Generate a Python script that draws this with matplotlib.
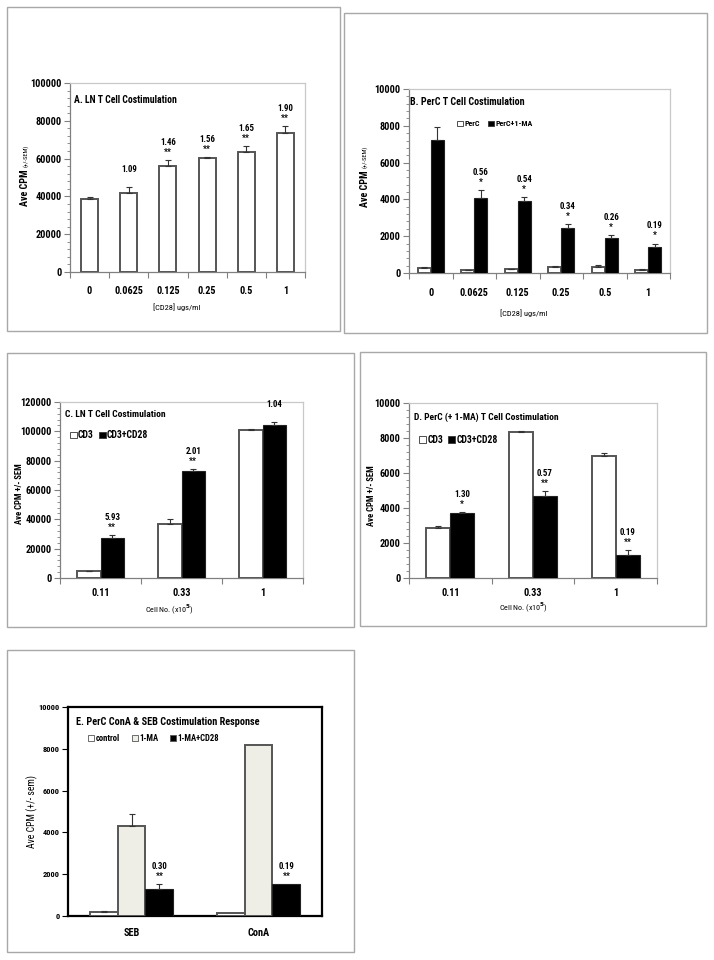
import matplotlib
matplotlib.use('Agg')
import matplotlib.pyplot as plt
from matplotlib.patches import Rectangle, Patch
from matplotlib.ticker import MultipleLocator, FixedLocator, NullFormatter
import numpy as np

plt.rcParams['font.family'] = ['Roboto Condensed', 'Liberation Sans', 'DejaVu Sans']
plt.rcParams['font.weight'] = 'bold'

# ---------------- data ----------------
A_cats = ['0', '0.0625', '0.125', '0.25', '0.5', '1']
A_vals = [38400, 41900, 56300, 60200, 63700, 73500]
A_err = [1400, 3200, 3000, 500, 3000, 3800]
A_ratio = ['', '1.09', '1.46', '1.56', '1.65', '1.90']
A_stars = ['', '', '**', '**', '**', '**']

B_cats = ['0', '0.0625', '0.125', '0.25', '0.5', '1']
B_perc = [270, 150, 200, 310, 330, 180]
B_perc_err = [80, 40, 40, 50, 80, 30]
B_ma = [7250, 4050, 3930, 2450, 1910, 1420]
B_ma_err = [700, 450, 220, 230, 140, 180]
B_ratio = ['', '0.56', '0.54', '0.34', '0.26', '0.19']
B_stars = ['', '*', '*', '*', '*', '*']

C_cats = ['0.11', '0.33', '1']
C_cd3 = [4500, 36900, 100700]
C_cd3_err = [500, 3300, 1100]
C_cd328 = [27200, 73100, 104100]
C_cd328_err = [2100, 900, 2200]
C_ratio = ['5.93', '2.01', '1.04']
C_stars = ['**', '**', '']

D_cats = ['0.11', '0.33', '1']
D_cd3 = [2860, 8320, 6950]
D_cd3_err = [90, 80, 190]
D_cd328 = [3710, 4700, 1330]
D_cd328_err = [60, 250, 290]
D_ratio = ['1.30', '0.57', '0.19']
D_stars = ['*', '**', '**']

E_cats = ['SEB', 'ConA']
E_control = [190, 160]
E_control_err = [50, 0]
E_ma = [4290, 8200]
E_ma_err = [600, 0]
E_macd28 = [1290, 1530]
E_macd28_err = [240, 0]
E_ratio = ['0.30', '0.19']
E_stars = ['**', '**']

# ---------------- helpers ----------------
W, H = 714, 960
fig = plt.figure(figsize=(7.14, 9.6), dpi=100)


def px_axes(l, t, r, b):
    return fig.add_axes([l / W, 1 - b / H, (r - l) / W, (b - t) / H])


def frame(l, t, r, b):
    fig.add_artist(Rectangle((l / W, 1 - b / H), (r - l) / W, (b - t) / H,
                             transform=fig.transFigure, fill=False,
                             edgecolor='#a8a8a8', lw=1.0))


def style(ax, cats, ymax, major, minor, pad=9, fs=7.4, dark=False):
    n = len(cats)
    ax.set_xlim(0, n)
    ax.set_ylim(0, ymax)
    ax.xaxis.set_major_locator(FixedLocator(np.arange(n + 1)))
    ax.xaxis.set_major_formatter(NullFormatter())
    ax.xaxis.set_minor_locator(FixedLocator(np.arange(n) + 0.5))
    ax.set_xticklabels(cats, minor=True, fontsize=fs, fontweight='bold')
    ax.yaxis.set_major_locator(MultipleLocator(major))
    if minor:
        ax.yaxis.set_minor_locator(MultipleLocator(minor))
    for lab in ax.get_yticklabels():
        lab.set_fontsize(fs)
        lab.set_fontweight('bold')
    c = '#000000' if dark else '#808080'
    ax.tick_params(axis='x', which='major', length=4, direction='out', color=c, width=0.8)
    ax.tick_params(axis='x', which='minor', length=0, pad=pad)
    ax.tick_params(axis='y', which='major', length=4, direction='out', color=c, width=0.8, pad=2)
    ax.tick_params(axis='y', which='minor', length=2, direction='out', color=c, width=0.6)
    if dark:
        for s in ax.spines.values():
            s.set_color('black')
            s.set_linewidth(1.6)
    else:
        ax.spines['left'].set_color('#808080')
        ax.spines['bottom'].set_color('#808080')
        ax.spines['top'].set_color('#c8c8c8')
        ax.spines['right'].set_color('#c8c8c8')
        for s in ax.spines.values():
            s.set_linewidth(0.9)


def white_bars(ax, x, vals, w, face='white'):
    ax.bar(x, vals, w, color=face, edgecolor='#555555', linewidth=1.4, zorder=3)


def black_bars(ax, x, vals, w):
    ax.bar(x, vals, w, color='black', edgecolor='#222222', linewidth=0.8, zorder=3)


def errs(ax, x, vals, err):
    x = np.asarray(x, float)
    vals = np.asarray(vals, float)
    err = np.asarray(err, float)
    m = err > 0
    ax.errorbar(x[m], vals[m], yerr=[np.zeros(m.sum()), err[m]], fmt='none',
                ecolor='#333333', elinewidth=0.8, capsize=2.2, capthick=0.8, zorder=4)


def notes(ax, x, vals, err, ratios, stars, fs=6.4, d1=5.5, d2=12.7):
    for xi, v, e, r, s in zip(x, vals, err, ratios, stars):
        top = v + e
        if s:
            ax.annotate(s, (xi, top), xytext=(0, d1), textcoords='offset points',
                        ha='center', va='center', fontsize=fs, fontweight='bold')
        if r:
            ax.annotate(r, (xi, top), xytext=(0, d2), textcoords='offset points',
                        ha='center', va='center', fontsize=fs, fontweight='bold')


def legend(ax, labels, colors, x, y, fs=6.8, spacing=1.2, edge='#333333'):
    handles = [Patch(facecolor=c, edgecolor=edge, linewidth=0.6) for c in colors]
    ax.legend(handles, labels, loc='center left', bbox_to_anchor=(x, y),
              ncol=len(labels), frameon=False, handlelength=0.7,
              handleheight=0.7, handletextpad=0.15, columnspacing=spacing,
              borderaxespad=0, borderpad=0, prop={'weight': 'bold', 'size': fs})


def ylab_two(ax, x, y0, main, small):
    t1 = ax.text(x, y0, main, transform=ax.transAxes, rotation=90,
                 fontsize=7.2, fontweight='bold', ha='center', va='bottom')
    ax.annotate(small, xy=(0.5, 1.0), xycoords=t1, xytext=(0, 1.5),
                textcoords='offset points', rotation=90, fontsize=4.6,
                fontweight='normal', ha='center', va='bottom')


# panel frames
frame(7, 7, 340, 331)
frame(344, 13, 707, 333)
frame(7, 353, 354, 627)
frame(360, 352, 706, 626)
frame(7, 650, 354, 952)

# ---------------- Panel A ----------------
ax = px_axes(70, 83, 305, 272)
xa = np.arange(len(A_cats)) + 0.5
white_bars(ax, xa, A_vals, 0.43)
errs(ax, xa, A_vals, A_err)
notes(ax, xa, A_vals, A_err, A_ratio, A_stars)
style(ax, A_cats, 100000, 20000, 4000, pad=10)
ax.text(0.015, 0.91, 'A. LN T Cell Costimulation', transform=ax.transAxes,
        fontsize=7.0, fontweight='bold', va='center', ha='left')
ylab_two(ax, -0.19, 0.35, 'Ave CPM', '(+/-SEM)')
ax.text(0.455, -0.185, '[CD28] ugs/ml', transform=ax.transAxes,
        fontsize=6, fontweight='normal', ha='center', va='center')

# ---------------- Panel B ----------------
ax = px_axes(409, 89, 670, 273)
xb = np.arange(len(B_cats)) + 0.5
w = 0.3
white_bars(ax, xb - w / 2, B_perc, w)
black_bars(ax, xb + w / 2, B_ma, w)
errs(ax, xb - w / 2, B_perc, B_perc_err)
errs(ax, xb + w / 2, B_ma, B_ma_err)
notes(ax, xb + w / 2, B_ma, B_ma_err, B_ratio, B_stars)
style(ax, B_cats, 10000, 2000, 400, pad=11)
ax.text(0.005, 0.93, 'B. PerC T Cell Costimulation', transform=ax.transAxes,
        fontsize=7.2, fontweight='bold', va='center', ha='left')
legend(ax, ['PerC', 'PerC+1-MA'], ['white', 'black'], 0.185, 0.81, fs=5.8, spacing=1.1)
ylab_two(ax, -0.17, 0.36, 'Ave CPM', '(+/-SEM)')
ax.text(0.44, -0.22, '[CD28] ugs/ml', transform=ax.transAxes,
        fontsize=6, fontweight='normal', ha='center', va='center')

# ---------------- Panel C ----------------
ax = px_axes(60, 402, 303, 578)
xc = np.arange(len(C_cats)) + 0.5
w = 0.29
white_bars(ax, xc - w / 2, C_cd3, w)
black_bars(ax, xc + w / 2, C_cd328, w)
errs(ax, xc - w / 2, C_cd3, C_cd3_err)
errs(ax, xc + w / 2, C_cd328, C_cd328_err)
notes(ax, xc + w / 2, C_cd328, C_cd328_err, C_ratio, C_stars)
style(ax, C_cats, 120000, 20000, 4000, pad=7)
ax.text(0.02, 0.93, 'C. LN T Cell Costimulation', transform=ax.transAxes,
        fontsize=6.8, fontweight='bold', va='center', ha='left')
legend(ax, ['CD3', 'CD3+CD28'], ['white', 'black'], 0.04, 0.81, fs=7.0, spacing=0.5)
ax.text(-0.165, 0.48, 'Ave CPM +/- SEM', transform=ax.transAxes, rotation=90,
        fontsize=6.2, fontweight='bold', ha='center', va='center')
ax.text(0.45, -0.176, 'Cell No. (x10$^{5}$)', transform=ax.transAxes,
        fontsize=5.8, fontweight='normal', ha='center', va='center')

# ---------------- Panel D ----------------
ax = px_axes(409, 403, 657, 578)
xd = np.arange(len(D_cats)) + 0.5
w = 0.29
white_bars(ax, xd - w / 2, D_cd3, w)
black_bars(ax, xd + w / 2, D_cd328, w)
errs(ax, xd - w / 2, D_cd3, D_cd3_err)
errs(ax, xd + w / 2, D_cd328, D_cd328_err)
notes(ax, xd + w / 2, D_cd328, D_cd328_err, D_ratio, D_stars)
style(ax, D_cats, 10000, 2000, 400, pad=7)
ax.text(0.02, 0.92, 'D. PerC (+ 1-MA) T Cell Costimulation', transform=ax.transAxes,
        fontsize=6.8, fontweight='bold', va='center', ha='left')
legend(ax, ['CD3', 'CD3+CD28'], ['white', 'black'], 0.04, 0.79, fs=7.0, spacing=0.5)
ax.text(-0.15, 0.47, 'Ave CPM +/- SEM', transform=ax.transAxes, rotation=90,
        fontsize=6.2, fontweight='bold', ha='center', va='center')
ax.text(0.46, -0.166, 'Cell No. (x10$^{5}$)', transform=ax.transAxes,
        fontsize=5.8, fontweight='normal', ha='center', va='center')

# ---------------- Panel E ----------------
ax = px_axes(68, 707, 322, 916)
xe = np.arange(len(E_cats)) + 0.5
w = 0.22
white_bars(ax, xe - w, E_control, w)
white_bars(ax, xe, E_ma, w, face='#eeeee6')
black_bars(ax, xe + w, E_macd28, w)
errs(ax, xe - w, E_control, E_control_err)
errs(ax, xe, E_ma, E_ma_err)
errs(ax, xe + w, E_macd28, E_macd28_err)
notes(ax, xe + w, E_macd28, E_macd28_err, E_ratio, E_stars)
style(ax, E_cats, 10000, 2000, None, pad=9, fs=7.4, dark=True)
ax.tick_params(axis='x', which='major', length=0)
for lab in ax.get_yticklabels():
    lab.set_fontsize(6)
ax.text(0.03, 0.93, 'E. PerC ConA & SEB Costimulation Response', transform=ax.transAxes,
        fontsize=7.4, fontweight='bold', va='center', ha='left')
legend(ax, ['control', '1-MA', '1-MA+CD28'], ['white', '#eeeee6', 'black'], 0.08, 0.85,
       fs=6.2, spacing=1.4, edge='#555555')
ax.text(-0.14, 0.5, 'Ave CPM (+/- sem)', transform=ax.transAxes, rotation=90,
        fontsize=7.0, fontweight='normal', ha='center', va='center')

fig.savefig('out.png', dpi=100)
